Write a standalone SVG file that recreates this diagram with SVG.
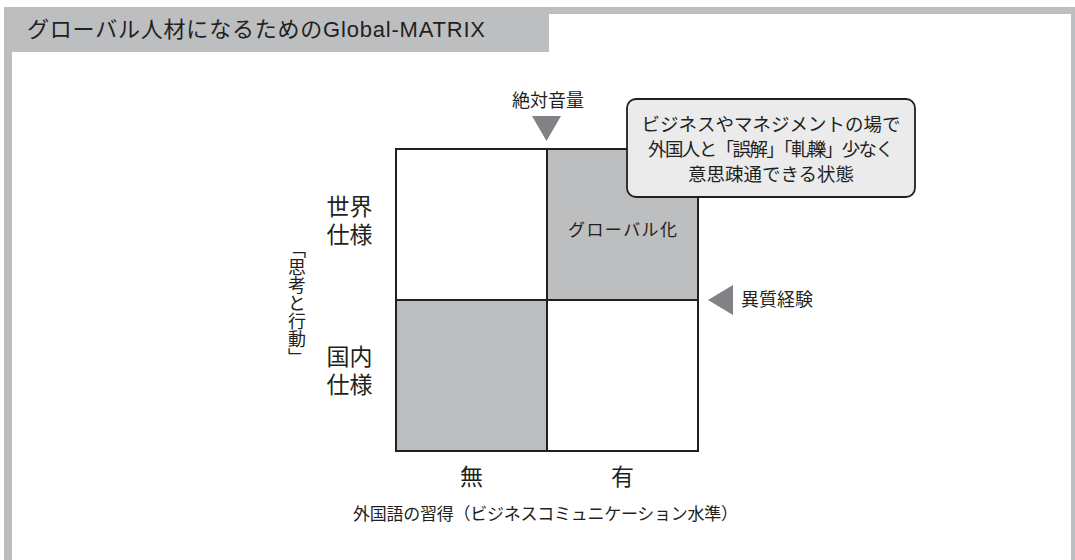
<svg xmlns="http://www.w3.org/2000/svg" width="1075" height="560" viewBox="0 0 1075 560">
  <style>
    text { font-family: "Liberation Sans", "Noto Sans CJK JP", sans-serif; fill: #231f20; }
    .frame { fill: #bcbec0; }
    .gray { fill: #bcbec0; }
    .white { fill: #ffffff; }
    .tri { fill: #808285; }
    .grid { stroke: #231f20; stroke-width: 2; fill: none; }
    .mid { text-anchor: middle; }
    .vert { font-family: "Noto Sans CJK JP", sans-serif; writing-mode: vertical-rl; }
  </style>
  <rect x="0" y="0" width="1075" height="560" fill="#ffffff"/>
  <g id="frame">
    <rect class="frame" x="4" y="7" width="1071" height="7"/>
    <rect class="frame" x="4" y="7" width="545" height="45"/>
    <rect class="frame" x="4" y="7" width="8" height="553"/>
    <rect class="frame" x="1071" y="7" width="4" height="553"/>
    <text x="27" y="37" font-size="22" textLength="458" lengthAdjust="spacing">グローバル人材になるためのGlobal-MATRIX</text>
  </g>
  <g id="matrix">
    <rect class="white" x="396" y="149" width="151" height="151"/>
    <rect class="gray" x="547" y="149" width="151" height="151"/>
    <rect class="gray" x="396" y="300" width="151" height="151"/>
    <rect class="white" x="547" y="300" width="151" height="151"/>
    <rect class="grid" x="396" y="149" width="302" height="302"/>
    <line class="grid" x1="547" y1="149" x2="547" y2="451"/>
    <line class="grid" x1="396" y1="300" x2="698" y2="300"/>
  </g>
  <g id="quadrant-label">
    <text class="mid" x="622.5" y="236" font-size="17" textLength="109" lengthAdjust="spacing">グローバル化</text>
  </g>
  <g id="top-marker">
    <text class="mid" x="548" y="107" font-size="18">絶対音量</text>
    <polygon class="tri" points="532,116 561,116 546.5,141"/>
  </g>
  <g id="right-marker">
    <polygon class="tri" points="733,285 733,315 708,300"/>
    <text x="741" y="306" font-size="18">異質経験</text>
  </g>
  <g id="callout">
    <rect x="627" y="99" width="288" height="98" rx="9" ry="9" fill="#ebebec" stroke="#231f20" stroke-width="1.8"/>
    <text class="mid" x="771" y="131" font-size="18.5">ビジネスやマネジメントの場で</text>
    <text class="mid" x="771" y="156" font-size="18.5" textLength="246" lengthAdjust="spacing">外国人と「誤解」「軋轢」少なく</text>
    <text class="mid" x="771" y="181" font-size="18.5">意思疎通できる状態</text>
  </g>
  <g id="y-labels">
    <text class="mid" x="349.5" y="215" font-size="23">世界</text>
    <text class="mid" x="349.5" y="243" font-size="23">仕様</text>
    <text class="mid" x="349.5" y="365" font-size="23">国内</text>
    <text class="mid" x="349.5" y="393" font-size="23">仕様</text>
  </g>
  <g id="y-axis">
    <text class="vert" x="297" y="240" font-size="18">「思考と行動」</text>
  </g>
  <g id="x-labels">
    <text class="mid" x="471.5" y="485" font-size="23">無</text>
    <text class="mid" x="622.5" y="485" font-size="23">有</text>
  </g>
  <g id="x-axis">
    <text x="353" y="520" font-size="17" textLength="385" lengthAdjust="spacing">外国語の習得（ビジネスコミュニケーション水準）</text>
  </g>
</svg>
